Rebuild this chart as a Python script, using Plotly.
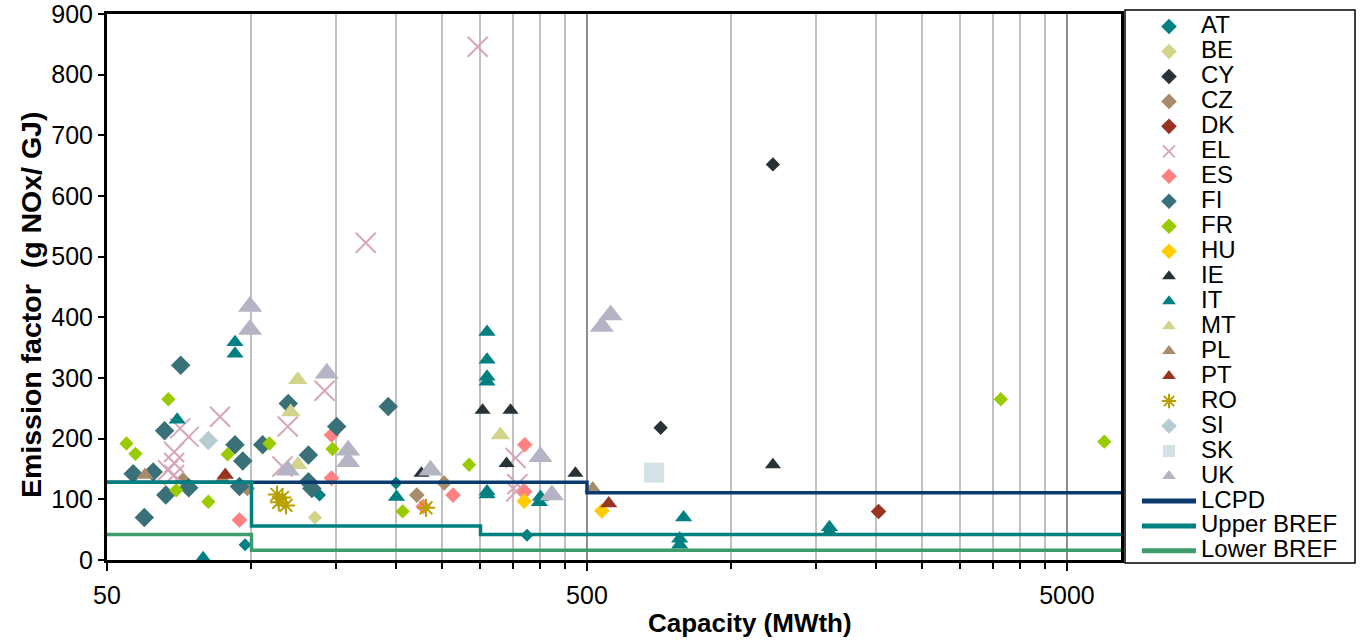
import plotly.graph_objects as go
import math

# ---------------- data ----------------
AT_x = [97, 138.6, 200, 375]
AT_y = [25, 107, 127, 41]
BE_x = [135.6]
BE_y = [70]
CY_x = [712, 1220]
CY_y = [218, 652]
CZ_x = [72, 98, 221, 252]
CZ_y = [132, 118, 107, 127]
DK_x = [2025]
DK_y = [80]
EL_x = [296, 173, 86, 74, 71, 69, 69, 67, 69, 142, 119, 116, 355, 358, 356]
EL_y = [846, 523, 236, 203, 217, 178, 160, 148, 140, 279, 220, 154, 168, 125, 113]
ES_x = [94.4, 146.8, 146.8, 228, 263, 371, 371]
ES_y = [66, 206, 135, 88, 107, 190, 113]
FI_x = [50, 71.2, 65.9, 92.4, 95.9, 105.5, 56.7, 62.4, 66.3, 74, 94.4, 59.8,
        119.3, 150.5, 131.4, 131.4, 133.6, 192.7]
FI_y = [0, 321, 213, 190, 163, 190, 142, 145, 107, 119, 121, 70,
        258, 220, 173, 129, 118, 253]
FR_x = [67.1, 54.9, 57.3, 89.2, 109, 69.7, 81.3, 147.5, 206.5, 284, 3640, 5980]
FR_y = [265, 192, 175, 174, 192, 115, 96, 183, 80, 157, 265, 195]
HU_x = [370, 537]
HU_y = [97, 81]
IE_x = [303, 346.5, 340, 473, 226, 1220]
IE_y = [247, 247, 159, 143, 143, 157]
IT_x = [92.4, 92.4, 70, 79.3, 200.5, 309.6, 309.6, 309.6, 309.6, 309.6, 309.6,
        400, 398, 795, 780, 780, 1600, 1600]
IT_y = [359, 340, 231, 3, 104, 376, 330, 302, 294, 113, 108,
        104, 95, 70, 35, 25, 54, 46]
MT_x = [124.9, 120.7, 124.9, 330]
MT_y = [297, 244, 157, 206]
PL_x = [60, 87, 514]
PL_y = [140, 133, 118]
PT_x = [88.2, 555]
PT_y = [140, 93]
RO_x = [113, 116, 114, 118, 231]
RO_y = [108, 103, 95, 90, 86]
SI_x = [81.3]
SI_y = [197]
SK_x = [690]
SK_y = [144]
UK_x = [99.3, 99.3, 143.5, 159, 159, 119, 236, 400, 422.6, 560, 537]
UK_y = [418, 380, 308, 181, 162, 148, 148, 170, 107, 404, 385]

X_MIN, X_MAX = 50, 6480
LCPD_x = [50, 500, 500, 6480]
LCPD_y = [128, 128, 111, 111]
UBREF_x = [50, 100, 100, 300, 300, 6480]
UBREF_y = [128, 128, 56, 56, 42, 42]
LBREF_x = [50, 100, 100, 6480]
LBREF_y = [42, 42, 16, 16]

x_major_ticks = [50, 500, 5000]
x_major_labels = ["50", "500", "5000"]
x_minor_ticks = [100, 150, 200, 250, 300, 350, 400, 450,
                 1000, 1500, 2000, 2500, 3000, 3500, 4000, 4500]

FONT = "Liberation Sans, Arial, sans-serif"

series = [
    ("AT", AT_x, AT_y, "diamond", "#008080", 10),
    ("BE", BE_x, BE_y, "diamond", "#D3D38B", 11),
    ("CY", CY_x, CY_y, "diamond", "#263236", 11),
    ("CZ", CZ_x, CZ_y, "diamond", "#A88B6B", 12),
    ("DK", DK_x, DK_y, "diamond", "#993322", 12),
    ("EL", EL_x, EL_y, "x-thin-open", "#D8A6B8", 20),
    ("ES", ES_x, ES_y, "diamond", "#FF8080", 12),
    ("FI", FI_x, FI_y, "diamond", "#3A7178", 15),
    ("FR", FR_x, FR_y, "diamond", "#99CC00", 11),
    ("HU", HU_x, HU_y, "diamond", "#FFCC00", 12),
    ("IE", IE_x, IE_y, "triangle-up", "#263236", 14),
    ("IT", IT_x, IT_y, "triangle-up", "#008080", 15),
    ("MT", MT_x, MT_y, "triangle-up", "#D3D38B", 17),
    ("PL", PL_x, PL_y, "triangle-up", "#A88B6B", 15),
    ("PT", PT_x, PT_y, "triangle-up", "#993322", 15),
    ("RO", RO_x, RO_y, "asterisk-open", "#B8A000", 15),
    ("SI", SI_x, SI_y, "diamond", "#B6CCD2", 15),
    ("SK", SK_x, SK_y, "square", "#D3E2E5", 20),
    ("UK", UK_x, UK_y, "triangle-up", "#B4B4C4", 21),
]

lines = [
    ("LCPD", LCPD_x, LCPD_y, "#0A3A6E"),
    ("Upper BREF", UBREF_x, UBREF_y, "#00807F"),
    ("Lower BREF", LBREF_x, LBREF_y, "#3C9C6C"),
]

LEG_SPAN = "<span style=\"font-size:24px\">{}</span>"

fig = go.Figure()
for name, xs, ys, sym, col, sz in series:
    open_sym = sym.endswith("-open")
    fig.add_trace(go.Scatter(
        x=xs, y=ys, mode="markers", name=LEG_SPAN.format(name),
        marker=dict(symbol=sym, color=col, size=sz,
                    line=dict(color=col, width=2 if open_sym else 0)),
        cliponaxis=False,
    ))
for name, xs, ys, col in lines:
    fig.add_trace(go.Scatter(
        x=xs, y=ys, mode="lines", name=LEG_SPAN.format(name),
        line=dict(color=col, width=3.5),
    ))

W, H = 1365, 642
L, R, T, B = 107, 1121, 14, 560
pw, ph = R - L, B - T

def px_x(p):
    return (p - L) / pw

def px_y(p):
    return (B - p) / ph

fig.update_layout(
    width=W, height=H,
    margin=dict(l=L, r=W - R, t=T, b=H - B, autoexpand=False),
    paper_bgcolor="white", plot_bgcolor="white",
    font=dict(family=FONT, size=22, color="black"),
    showlegend=True,
    legend=dict(
        x=px_x(1137), xanchor="left", y=px_y(9), yanchor="top",
        font=dict(family=FONT, size=16.9, color="black"),
        itemwidth=54, itemsizing="constant",
        bgcolor="rgba(0,0,0,0)", borderwidth=0,
        tracegroupgap=0, maxheight=640,
    ),
    xaxis=dict(
        type="log",
        range=[math.log10(X_MIN), math.log10(X_MAX)],
        tickmode="array", tickvals=x_major_ticks, ticktext=x_major_labels,
        ticks="outside", ticklen=8, tickwidth=2, tickcolor="black",
        showgrid=True, gridcolor="#8E8E8E", gridwidth=2,
        showline=True, linecolor="black", linewidth=3, mirror=True,
        tickfont=dict(family=FONT, size=25, color="black"),
        ticklabelstandoff=3, ticklabeloverflow="allow",
        minor=dict(tickmode="array", tickvals=x_minor_ticks, ticks="outside",
                   ticklen=6, tickwidth=1.5, tickcolor="black",
                   showgrid=True, gridcolor="#C0C0C0", gridwidth=2),
        zeroline=False,
    ),
    yaxis=dict(
        range=[0, 900], tickmode="linear", tick0=0, dtick=100,
        ticks="outside", ticklen=6, tickwidth=2, tickcolor="black",
        showgrid=False, zeroline=False,
        showline=True, linecolor="black", linewidth=3, mirror=True,
        tickfont=dict(family=FONT, size=25, color="black"),
        ticklabelstandoff=0, ticklabeloverflow="allow",
    ),
    shapes=[dict(type="rect", xref="paper", yref="paper",
                 x0=px_x(1125), x1=px_x(1355), y0=px_y(563), y1=px_y(10),
                 line=dict(color="black", width=1.5), fillcolor="rgba(0,0,0,0)")],
    annotations=[
        dict(text="Capacity (MWth)", xref="paper", yref="paper",
             x=px_x(750), y=px_y(623), xanchor="center", yanchor="middle",
             showarrow=False,
             font=dict(family=FONT, size=26, color="black", weight="bold")),
        dict(text="Emission factor  (g NOx/ GJ)", xref="paper", yref="paper",
             x=px_x(31), y=px_y(305), xanchor="center", yanchor="middle",
             textangle=-90, showarrow=False,
             font=dict(family=FONT, size=28.5, color="black", weight="bold")),
    ],
)

# remove the browser's default 8px body margin so the figure sits at (0, 0)
fig.write_html("out.html", config={"displayModeBar": False},
               post_script="document.body.style.margin='0';")
